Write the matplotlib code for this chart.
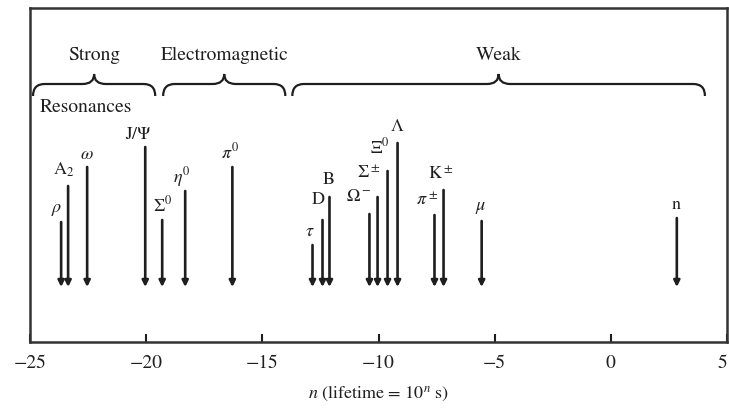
import matplotlib
matplotlib.use('Agg')
import matplotlib.pyplot as plt
from matplotlib.path import Path
from matplotlib.patches import PathPatch
import numpy as np

# particles and their lifetimes (exponent n, lifetime = 10^n s)
particles = [r'$\rho$', r'$\mathrm{A}_2$', r'$\omega$', r'$\mathrm{J}/\Psi$', r'$\Sigma^0$',
             r'$\eta^0$', r'$\pi^0$', r'$\tau$', 'D', 'B', r'$\Omega^-$', r'$\Sigma^\pm$',
             r'$\Xi^0$', r'$\Lambda$', r'$\pi^\pm$', r'$\mathrm{K}^\pm$', r'$\mu$', 'n']
lifetime_exp = [-23.66, -23.36, -22.54, -20.04, -19.31, -18.32, -16.29, -12.84, -12.41,
                -12.11, -10.39, -10.04, -9.61, -9.18, -7.59, -7.20, -5.56, 2.84]
# arrow stem heights (arbitrary staggering in the original figure)
stem_top = [120, 156, 175, 195, 122, 151, 175, 97, 122, 145, 128, 145, 171, 199, 127, 152, 121, 124]

# interaction groups: label, start, end of lifetime range
groups = ['Strong', 'Electromagnetic', 'Weak']
group_start = [-24.87, -19.27, -13.71]
group_end = [-19.61, -14.01, 4.05]

xticks = [-25, -20, -15, -10, -5, 0, 5]

plt.rcParams['font.family'] = ['STIXGeneral', 'DejaVu Serif']
plt.rcParams['mathtext.fontset'] = 'stix'
ink = '#1e1e1e'

fig = plt.figure(figsize=(7.29, 4.13), dpi=100)
ax = fig.add_axes([30/729, 71/413, 697/729, 334/413])
ax.set_xlim(-25, 5)
ax.set_ylim(0, 334)

#label offsets in pixels from the arrow top
offs = [(-5, 12), (-4, 16), (0, 12), (-7, 12), (1, 15), (-3, 14), (-2, 15), (-3, 13), (-4, 20),
        (-1, 17), (-11, 17), (-9, 24), (-8, 24), (0, 16), (-7, 15), (-3, 16), (-1, 13), (-1, 13)]
base = 55
for name, x, top, off in zip(particles, lifetime_exp, stem_top, offs):
    ax.annotate('', xy=(x, base), xytext=(x, top),
                arrowprops=dict(arrowstyle='-|>', lw=1.9, color=ink, mutation_scale=9,
                                shrinkA=0, shrinkB=0))
    ax.annotate(name, xy=(x, top), xytext=off, textcoords='offset pixels',
                ha='center', va='center', fontsize=13, color=ink)

#braces
def brace(ax, x0, x1, yb, ym, yt, r=0.5):
    xc = (x0 + x1) / 2
    verts = [(x0, yb), (x0, ym), (x0 + r, ym),
             (xc - r, ym), (xc, ym), (xc, yt),
             (xc, ym), (xc + r, ym),
             (x1 - r, ym), (x1, ym), (x1, yb)]
    codes = [Path.MOVETO, Path.CURVE3, Path.CURVE3,
             Path.LINETO, Path.CURVE3, Path.CURVE3,
             Path.CURVE3, Path.CURVE3,
             Path.LINETO, Path.CURVE3, Path.CURVE3]
    ax.add_patch(PathPatch(Path(verts, codes), fill=False, lw=1.6, color=ink))

for g, a, b in zip(groups, group_start, group_end):
    brace(ax, a, b, 246, 258, 268)
    ax.text((a + b) / 2, 287, g, ha='center', va='center', fontsize=14, color=ink)
ax.text(-24.6, 235, 'Resonances', ha='left', va='center', fontsize=14, color=ink)

ax.set_xticks(xticks)
ax.set_xticklabels(['\u221225', '\u221220', '\u221215', '\u221210', '\u22125', '0', '5'])
ax.get_xticklabels()[-1].set_ha('right')
ax.set_yticks([])
ax.tick_params(axis='x', direction='in', length=6, width=1.5, pad=9, labelsize=14,
               colors=ink)
for s in ax.spines.values():
    s.set_linewidth(1.8)
    s.set_color('#333333')
ax.set_xlabel(r'$n$ (lifetime = 10$^n$ s)', fontsize=13, labelpad=9, color=ink)

fig.savefig('out.png', dpi=100)
